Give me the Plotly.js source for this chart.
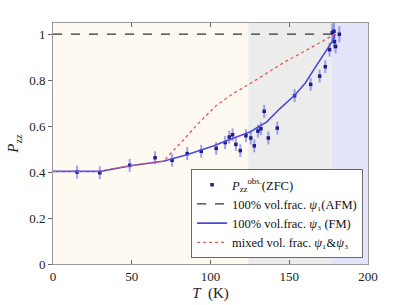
<!DOCTYPE html>
<html><head><meta charset="utf-8">
<script src="https://cdn.plot.ly/plotly-3.0.1.min.js"></script>
<style>html,body{margin:0;padding:0;background:#fff}#c{width:407px;height:305px}</style>
</head><body><div id="c"></div>
<script>
// observed data
const obsT = [15.3, 29.7, 48.7, 64.8, 75.6, 85.2, 94.1, 103.6, 109.3, 111.9, 114.0, 116.1, 118.9, 122.5, 125.6, 127.8, 130.1, 132.0, 134.1, 136.7, 142.4, 153.4, 163.6, 169.3, 172.9, 175.6, 177.3, 178.4, 178.6, 179.4, 181.8];
const obsP = [0.400, 0.397, 0.429, 0.462, 0.451, 0.480, 0.490, 0.503, 0.528, 0.552, 0.562, 0.520, 0.493, 0.558, 0.548, 0.514, 0.578, 0.588, 0.664, 0.548, 0.591, 0.732, 0.781, 0.817, 0.858, 0.932, 1.006, 1.012, 0.967, 0.946, 0.999];
const obsErr = [0.028, 0.028, 0.028, 0.028, 0.028, 0.028, 0.028, 0.028, 0.028, 0.028, 0.028, 0.028, 0.028, 0.028, 0.028, 0.028, 0.028, 0.028, 0.028, 0.028, 0.028, 0.028, 0.028, 0.028, 0.028, 0.03, 0.04, 0.04, 0.03, 0.03, 0.035];
// AFM model
const afmT = [0, 178];
const afmP = [1, 1];
// FM model
const fmT = [0, 30, 50, 70, 85, 101.7, 112.3, 125, 135.6, 144.1, 153.6, 160, 165.3, 169.5, 174, 177.5, 179.2];
const fmP = [0.403, 0.403, 0.428, 0.447, 0.475, 0.513, 0.541, 0.574, 0.617, 0.676, 0.735, 0.785, 0.842, 0.886, 0.93, 0.97, 1.0];
// mixed model
const mixT = [0, 30, 50, 70, 82.6, 91.1, 103.8, 114.4, 125, 137.7, 147, 157, 165, 172, 179.2];
const mixP = [0.403, 0.403, 0.428, 0.447, 0.538, 0.603, 0.690, 0.741, 0.784, 0.840, 0.878, 0.915, 0.945, 0.972, 1.0];
// shaded regions
const regionStart = [0, 124, 177];
const regionEnd = [124, 177, 200];
const regionColor = ['#fef9f1', '#ececec', '#e4e4fa'];

const font = 'Liberation Serif, DejaVu Serif, serif';
const traces = [
  {x: obsT, y: obsP, mode: 'markers', type: 'scatter',
   name: '<i>P</i><sub>zz</sub><sup>obs.</sup>(ZFC)',
   marker: {color: '#1c1c8a', size: 3.5, symbol: 'square'},
   error_y: {type: 'data', array: obsErr, visible: true, color: 'rgba(90,90,225,0.55)', thickness: 2, width: 0}},
  {x: afmT, y: afmP, mode: 'lines', type: 'scatter',
   name: '100% vol.frac. <i>ψ</i>₁(AFM)',
   line: {color: '#333333', dash: 'dash', width: 1.3}},
  {x: fmT, y: fmP, mode: 'lines', type: 'scatter',
   name: '100% vol.frac. <i>ψ</i>₃ (FM)',
   line: {color: '#4b4bd8', width: 1.6}},
  {x: mixT, y: mixP, mode: 'lines', type: 'scatter',
   name: 'mixed vol. frac. <i>ψ</i>₁&<i>ψ</i>₃',
   line: {color: '#e45a5a', dash: 'dot', width: 1.3}}
];
const shapes = regionStart.map((s, i) => ({type: 'rect', xref: 'x', yref: 'paper', x0: s, x1: regionEnd[i], y0: 0, y1: 1,
  fillcolor: regionColor[i], line: {width: 0}, layer: 'below'}));
const layout = {
  width: 407, height: 305,
  margin: {l: 53, r: 39, t: 23, b: 41},
  paper_bgcolor: '#fff', plot_bgcolor: '#fff',
  font: {family: font, size: 13, color: '#222'},
  showlegend: true,
  legend: {x: 0.985, y: 0.024, xanchor: 'right', yanchor: 'bottom', bgcolor: '#fff', bordercolor: '#444', borderwidth: 0.8,
    font: {family: font, size: 12.5, color: '#111'}, tracegroupgap: 0, itemwidth: 30},
  shapes: shapes,
  xaxis: {range: [0, 200], tickvals: [0, 50, 100, 150, 200], ticks: 'inside', ticklen: 4, tickcolor: '#666',
    showline: true, linecolor: '#999', linewidth: 1, mirror: 'ticks', showgrid: false, zeroline: false,
    title: {text: '<i>T</i>  (K)', font: {family: font, size: 15}, standoff: 4}},
  yaxis: {range: [0, 1.048], tickvals: [0, 0.2, 0.4, 0.6, 0.8, 1], ticktext: ['0', '0.2', '0.4', '0.6', '0.8', '1'],
    ticks: 'outside', ticklen: 4, tickcolor: '#666',
    showline: true, linecolor: '#999', linewidth: 1, mirror: true, showgrid: false, zeroline: false,
    title: {text: '<i>P</i><sub>zz</sub>', font: {family: font, size: 15}, standoff: 6}}
};
Plotly.newPlot('c', traces, layout, {displayModeBar: false, staticPlot: true});
</script></body></html>
